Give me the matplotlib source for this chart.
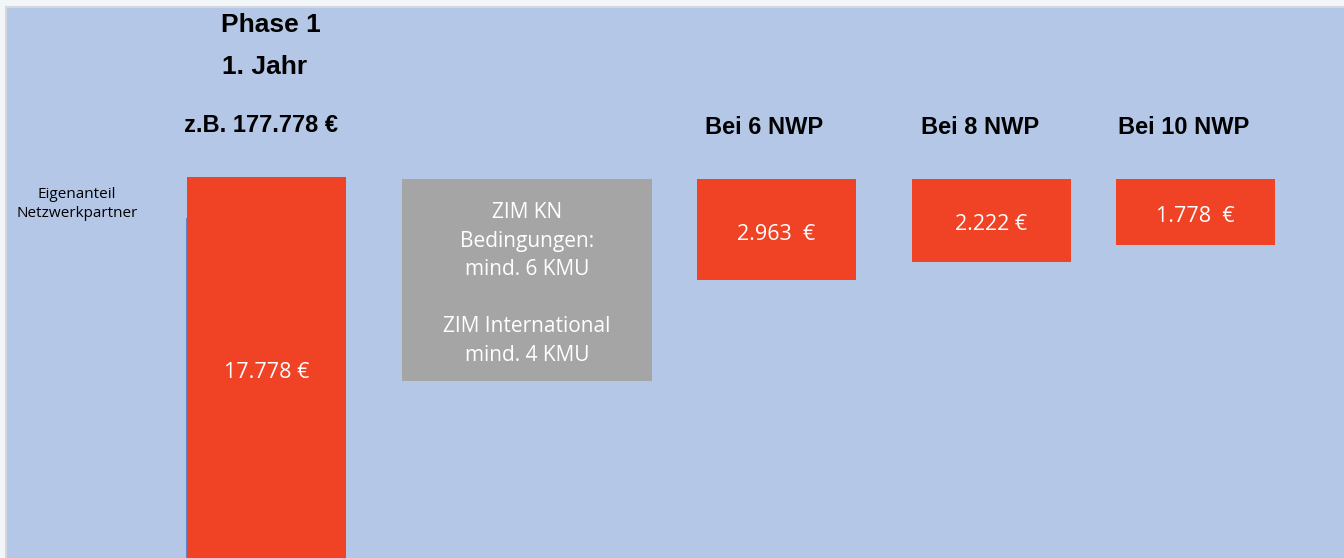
import matplotlib.pyplot as plt
from matplotlib.patches import Rectangle

# values shown in the red boxes (Eigenanteil je Netzwerkpartner)
box_labels = ["17.778 €", "2.963  €", "2.222 €", "1.778  €"]
headers = ["z.B. 177.778 €", "Bei 6 NWP", "Bei 8 NWP", "Bei 10 NWP"]
phase_title = ["Phase 1", "1. Jahr"]
row_label = "Eigenanteil\nNetzwerkpartner"
info_text = "ZIM KN\nBedingungen:\nmind. 6 KMU\n\nZIM International\nmind. 4 KMU"

# layout in pixel units (figure is 1344 x 558)
bar_x = [266.5, 776.5, 991.5, 1195.5]
bar_top = [177, 179, 179, 179]
bar_depth = [400, 101, 83, 66]
bar_w = 159
label_y = [372, 234, 224, 216]
header_y = [125, 128, 128, 128]
header_x = [261, 764, 980, 1184]

RED = "#f04224"
BLUE = "#b4c7e7"
GRAY = "#a5a5a5"

fig = plt.figure(figsize=(13.44, 5.58), dpi=100, facecolor="#f3f6f9")
ax = fig.add_axes([0, 0, 1, 1])
ax.set_xlim(0, 1344)
ax.set_ylim(558, 0)
ax.axis("off")

# blue panel
ax.add_patch(Rectangle((5.5, 6.5), 1344, 560, facecolor=BLUE,
                       edgecolor="#d5d9de", lw=1.5, zorder=0))

ax.bar(bar_x, bar_depth, bottom=bar_top, width=bar_w, color=RED,
       linewidth=0, zorder=2)
ax.vlines(bar_x[0] - bar_w / 2 - 0.5, 218, 558, color="#5d86cc", lw=1.5,
          zorder=1)

for x, y, t in zip(bar_x, label_y, box_labels):
    ax.text(x, y, t, color="white", fontsize=15.5, family="Open Sans",
            ha="center", va="center", zorder=3)

# gray info box
ax.add_patch(Rectangle((402, 179), 250, 202, facecolor=GRAY, lw=0,
                       zorder=2))
ax.text(527, 284, info_text, color="white", fontsize=15, family="Open Sans",
        ha="center", va="center", linespacing=1.47, zorder=3)

ax.text(271, 25, phase_title[0], fontsize=19, fontweight="bold",
        family="Liberation Sans", ha="center", va="center")
ax.text(265, 67, phase_title[1], fontsize=19, fontweight="bold",
        family="Liberation Sans", ha="center", va="center")
for x, y, t in zip(header_x, header_y, headers):
    ax.text(x, y, t, fontsize=17, fontweight="bold",
            family="Liberation Sans", ha="center", va="center")

ax.text(77, 204, row_label, fontsize=11, family="Open Sans",
        ha="center", va="center", linespacing=1.35)

fig.savefig("out.png", dpi=100, facecolor=fig.get_facecolor())
